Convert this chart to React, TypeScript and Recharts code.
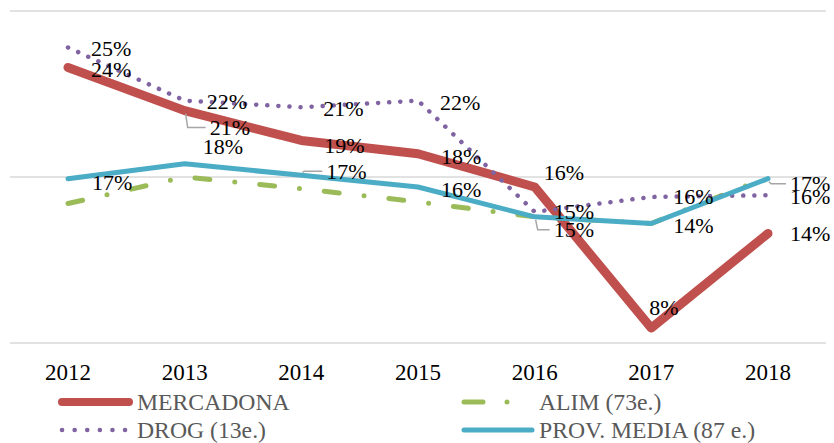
import { LineChart, Line, XAxis, YAxis, CartesianGrid, LabelList } from 'recharts'

const years = ['2012', '2013', '2014', '2015', '2016', '2017', '2018']
const mercadona = [0.236, 0.21, 0.192, 0.184, 0.164, 0.079, 0.136]
const alim = [0.154, 0.17, 0.163, 0.155, 0.146, 0.142, 0.17]
const drog = [0.248, 0.216, 0.212, 0.216, 0.149, 0.158, 0.159]
const provMedia = [0.169, 0.178, 0.171, 0.164, 0.146, 0.142, 0.169]
const yTicks = [0.07, 0.17, 0.27]

// label nudges (dx from point to text start, dy from point to text middle), leader flag
const mercLabels = [[23, 2, 0], [25, 17, 1], [23, 5, 0], [23, 3, 0], [9, -14, 0], [-2, -21, 0], [22, 0, 0]]
const drogLabels = [[23, 1, 0], [22, 1, 0], [22, 1, 0], [22, 2, 0], [19, 0, 0], [22, 0, 0], [22, 1, 0]]
const provLabels = [[24, 4, 0], [18, -17, 0], [25, -4, 1], [23, 3, 0], [19, 13, 1], [22, 2, 0], [22, 5, 1]]

const data = years.map((year, i) => ({
  year,
  mercadona: mercadona[i],
  alim: alim[i],
  drog: drog[i],
  prov: provMedia[i],
}))

const FONT = '"Liberation Serif", "Times New Roman", serif'

function makeLabel(offsets: number[][]) {
  return (props: any) => {
    const { x = 0, y = 0, value, index = 0 } = props
    const [dx, dy, leader] = offsets[index] || [22, 0, 0]
    const lx = x + dx
    const ly = y + dy
    const txt = Math.round(value * 100) + '%'
    return (
      <g>
        {leader ? (
          <polyline
            points={`${x + 1},${y + (dy > 0 ? 3 : -3)} ${x + 3},${ly} ${lx - 4},${ly}`}
            fill="none"
            stroke="#A6A6A6"
            strokeWidth={1.5}
          />
        ) : null}
        <text x={lx} y={ly} dy="0.34em" fontSize={22} fontFamily={FONT} fill="#000" textAnchor="start">
          {txt}
        </text>
      </g>
    )
  }
}

function LegendItem({ x, y, label, children }: { x: number; y: number; label: string; children: any }) {
  return (
    <g>
      {children}
      <text x={x} y={y} dy="0.34em" fontSize={23.7} fontFamily={FONT} fill="#595959">
        {label}
      </text>
    </g>
  )
}

export default function App() {
  return (
    <div style={{ position: 'fixed', left: 0, top: 0, width: 834, height: 443, background: '#fff' }}>
      <LineChart width={834} height={443} data={data} margin={{ top: 11, right: 8, bottom: 60, left: 10 }}>
        <CartesianGrid vertical={false} stroke="#D9D9D9" strokeWidth={1.5} />
        <YAxis hide domain={[0.07, 0.27]} ticks={yTicks} />
        <XAxis
          dataKey="year"
          height={40}
          axisLine={false}
          tickLine={false}
          tickMargin={15}
          padding={{ left: 58, right: 58 }}
          tick={{ fontSize: 23, fontFamily: FONT, fill: '#000' }}
          interval={0}
        />
        <Line
          dataKey="mercadona"
          stroke="#C0504D"
          strokeWidth={9}
          strokeLinecap="round"
          strokeLinejoin="round"
          dot={false}
          activeDot={false}
          isAnimationActive={false}
        >
          <LabelList dataKey="mercadona" content={makeLabel(mercLabels)} />
        </Line>
        <Line
          dataKey="alim"
          stroke="#9BBB59"
          strokeWidth={5}
          strokeDasharray="15 25 0 25"
          strokeLinecap="round"
          strokeLinejoin="round"
          dot={false}
          activeDot={false}
          isAnimationActive={false}
        />
        <Line
          dataKey="drog"
          stroke="#8064A2"
          strokeWidth={4.5}
          strokeDasharray="0.1 11"
          strokeLinecap="round"
          strokeLinejoin="round"
          dot={false}
          activeDot={false}
          isAnimationActive={false}
        >
          <LabelList dataKey="drog" content={makeLabel(drogLabels)} />
        </Line>
        <Line
          dataKey="prov"
          stroke="#4BACC6"
          strokeWidth={5}
          strokeLinecap="round"
          strokeLinejoin="round"
          dot={false}
          activeDot={false}
          isAnimationActive={false}
        >
          <LabelList dataKey="prov" content={makeLabel(provLabels)} />
        </Line>
      </LineChart>
      <svg width={834} height={443} style={{ position: 'absolute', left: 0, top: 0, pointerEvents: 'none' }}>
        <LegendItem x={137} y={402} label="MERCADONA">
          <line x1={62} y1={402} x2={129} y2={402} stroke="#C0504D" strokeWidth={8} strokeLinecap="round" />
        </LegendItem>
        <LegendItem x={539} y={402} label="ALIM (73e.)">
          <line x1={464} y1={402} x2={531} y2={402} stroke="#9BBB59" strokeWidth={5} strokeLinecap="round" strokeDasharray="19 24 0 24 0 100" />
        </LegendItem>
        <LegendItem x={137} y={430} label="DROG (13e.)">
          <line x1={62} y1={430} x2={126} y2={430} stroke="#8064A2" strokeWidth={4.5} strokeLinecap="round" strokeDasharray="0.1 12.5" />
        </LegendItem>
        <LegendItem x={539} y={430} label="PROV. MEDIA (87 e.)">
          <line x1={464} y1={430} x2={532} y2={430} stroke="#4BACC6" strokeWidth={5} strokeLinecap="round" />
        </LegendItem>
      </svg>
    </div>
  )
}
